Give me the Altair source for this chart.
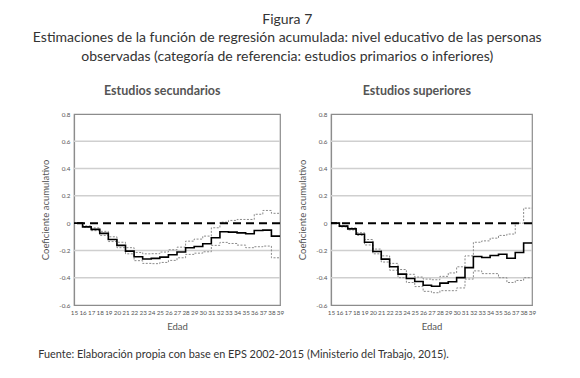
import altair as alt
import pandas as pd

edad = list(range(15, 40))

sec_est = [0, -0.027, -0.046, -0.075, -0.12, -0.163, -0.205, -0.246, -0.263, -0.258, -0.249, -0.232, -0.212,
           -0.18, -0.171, -0.151, -0.107, -0.063, -0.066, -0.071, -0.078, -0.054, -0.051, -0.095, -0.095]
sec_sup = [0, -0.02, -0.035, -0.06, -0.10, -0.14, -0.18, -0.215, -0.225, -0.224, -0.212, -0.195, -0.176,
           -0.132, -0.117, -0.095, -0.034, 0.007, 0.02, 0.027, 0.027, 0.065, 0.093, 0.072, 0.072]
sec_inf = [0, -0.03, -0.055, -0.09, -0.135, -0.18, -0.225, -0.275, -0.295, -0.297, -0.288, -0.273, -0.254,
           -0.229, -0.22, -0.21, -0.163, -0.141, -0.149, -0.161, -0.18, -0.173, -0.168, -0.254, -0.254]

sup_est = [0, -0.022, -0.042, -0.081, -0.14, -0.208, -0.264, -0.32, -0.374, -0.406, -0.428, -0.455, -0.463,
           -0.44, -0.43, -0.399, -0.326, -0.245, -0.252, -0.237, -0.228, -0.257, -0.215, -0.145, -0.145]
sup_sup = [0, -0.018, -0.035, -0.07, -0.12, -0.19, -0.24, -0.295, -0.34, -0.375, -0.395, -0.41, -0.415,
           -0.39, -0.365, -0.32, -0.24, -0.14, -0.13, -0.11, -0.09, -0.08, 0.0, 0.11, 0.11]
sup_inf = [0, -0.028, -0.05, -0.09, -0.16, -0.225, -0.285, -0.345, -0.40, -0.435, -0.465, -0.50, -0.51,
           -0.495, -0.495, -0.475, -0.41, -0.35, -0.37, -0.37, -0.40, -0.435, -0.42, -0.40, -0.40]

y_ticks = [-0.6, -0.4, -0.2, 0, 0.2, 0.4, 0.6, 0.8]
grid_values = [-0.4, -0.2, 0.2, 0.4, 0.6]

FONT = "Lato"


def long_df(est, sup, inf):
    rows = []
    for name, vals in (("est", est), ("sup", sup), ("inf", inf)):
        for e, v in zip(edad, vals):
            rows.append({"edad": e, "valor": v, "serie": name})
    return pd.DataFrame(rows)


def panel(est, sup, inf, title, width):
    df = long_df(est, sup, inf)
    x = alt.X("edad:Q", title="Edad",
              scale=alt.Scale(domain=[15, 39], nice=False, zero=False),
              axis=alt.Axis(values=edad, labelOverlap=False, labelFlush=False, grid=False))
    y = alt.Y("valor:Q", title="Coeficiente acumulativo",
              scale=alt.Scale(domain=[-0.6, 0.8], nice=False, zero=False),
              axis=alt.Axis(values=y_ticks, labelOverlap=False, labelFlush=False, grid=False,
                            labelExpr="abs(datum.value) < 0.001 ? '0' : (datum.value < 0 ? '-' : '') + format(abs(datum.value), '.1f')"))
    base = alt.Chart(df)
    grid = alt.Chart(pd.DataFrame({"valor": grid_values})).mark_rule(
        color="#cfcfcf", strokeWidth=1.5
    ).encode(y=y)
    ci = base.transform_filter("datum.serie != 'est'").mark_line(
        interpolate="step-after", color="#8a8a8a", strokeWidth=1, strokeDash=[2, 1.5]
    ).encode(x=x, y=y, detail="serie:N")
    zero = alt.Chart(pd.DataFrame({"valor": [0]})).mark_rule(
        color="black", strokeWidth=2, strokeDash=[8, 5]
    ).encode(y=y)
    est_line = base.transform_filter("datum.serie == 'est'").mark_line(
        interpolate="step-after", color="black", strokeWidth=1.6
    ).encode(x=x, y=y)
    return alt.layer(grid, ci, zero, est_line).properties(
        width=width, height=191,
        title=alt.TitleParams(title, fontSize=12.5, fontWeight="bold", color="#555",
                              font=FONT, anchor="middle", frame="bounds", offset=14),
    )


left = panel(sec_est, sec_sup, sec_inf, "Estudios secundarios", 206)
right = panel(sup_est, sup_sup, sup_inf, "Estudios superiores", 201)

footer = "Fuente: Elaboración propia con base en EPS 2002-2015 (Ministerio del Trabajo, 2015)."

inner = alt.hconcat(left, right, spacing=12).properties(
    title=alt.TitleParams(footer, orient="bottom", anchor="start", frame="bounds", fontSize=10.9,
                          fontWeight="normal", color="#333", font=FONT, offset=18, dx=-2)
)

chart = alt.vconcat(inner).properties(
    title=alt.TitleParams(
        "Figura 7",
        subtitle=["Estimaciones de la función de regresión acumulada: nivel educativo de las personas",
                  "observadas (categoría de referencia: estudios primarios o inferiores)"],
        anchor="middle", frame="bounds", font=FONT, fontSize=14, fontWeight="normal", color="#333",
        subtitleFont=FONT, subtitleFontSize=14, subtitleColor="#333", subtitleLineHeight=19,
        subtitlePadding=4, offset=20,
    ),
    padding={"left": 24, "top": 4, "right": 5, "bottom": 5},
).configure_view(stroke="#8c8c8c", strokeWidth=1.2).configure_axis(
    labelFont=FONT, titleFont=FONT, labelFontSize=6.3, titleFontSize=9.5, labelColor="#555",
    titleColor="#555", titleFontWeight="normal", domainColor="#8c8c8c", domainWidth=1.2, ticks=False,
    labelPadding=4,
).configure_axisY(titlePadding=8).configure_axisX(titlePadding=6)

chart.save("out.html", embed_options={"renderer": "svg", "actions": False})
